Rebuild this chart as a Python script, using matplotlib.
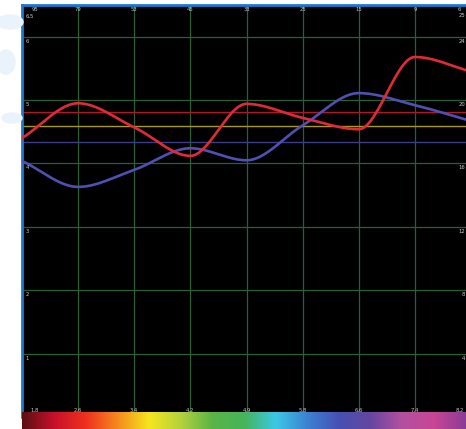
import numpy as np
import matplotlib
matplotlib.use("Agg")
import matplotlib.pyplot as plt
from matplotlib.colors import LinearSegmentedColormap

# ---- data ----
bottom_labels = ["1,8", "2,6", "3,4", "4,2", "4,9", "5,8", "6,6", "7,4", "8,2"]
top_labels = ["95", "79", "53", "45", "33", "25", "15", "9", "6"]
left_ticks = [1, 2, 3, 4, 5, 6]
left_labels = ["1", "2", "3", "4", "5", "6"]
right_labels = ["4", "8", "12", "16", "20", "24"]
red_values = [4.40, 4.95, 4.57, 4.12, 4.94, 4.72, 4.54, 5.68, 5.45]
blue_values = [4.04, 3.63, 3.90, 4.24, 4.05, 4.60, 5.11, 4.92, 4.67]
ref_red = 4.81
ref_yellow = 4.59
ref_blue = 4.34
spectrum_colors = ["#5a0f14", "#c8102a", "#f0301e", "#f58a1e", "#f5e61e", "#b4d23c",
                   "#5ab446", "#46b45a", "#3cc8e6", "#3c82d2", "#4650b4", "#6446a0",
                   "#b450a0", "#c84696", "#8c3c96"]

W, H = 466, 429


def pchip(x, y, xs):
    x = np.asarray(x, float); y = np.asarray(y, float)
    h = np.diff(x); d = np.diff(y) / h
    n = len(x); m = np.zeros(n)
    for k in range(1, n - 1):
        if d[k - 1] * d[k] > 0:
            w1 = 2 * h[k] + h[k - 1]; w2 = h[k] + 2 * h[k - 1]
            m[k] = (w1 + w2) / (w1 / d[k - 1] + w2 / d[k])
    m[0] = d[0]; m[-1] = d[-1]
    idx = np.clip(np.searchsorted(x, xs) - 1, 0, n - 2)
    t = (xs - x[idx]) / h[idx]
    h00 = 2 * t**3 - 3 * t**2 + 1; h10 = t**3 - 2 * t**2 + t
    h01 = -2 * t**3 + 3 * t**2; h11 = t**3 - t**2
    return h00 * y[idx] + h10 * h[idx] * m[idx] + h01 * y[idx + 1] + h11 * h[idx] * m[idx + 1]


fig = plt.figure(figsize=(W / 100, H / 100), dpi=100)
fig.patch.set_facecolor("white")

# faint watermark blobs on the left
for (cx, cy, rw, rh) in [(10, 22, 26, 14), (6, 62, 18, 24), (12, 118, 20, 10)]:
    e = matplotlib.patches.Ellipse((cx / W, 1 - cy / H), rw / W, rh / H,
                                   transform=fig.transFigure, color="#eaf3fb", zorder=0)
    fig.patches.append(e)

x0, x1 = 22, 471
ytop, ybot = 5, 417
ax = fig.add_axes([x0 / W, 1 - ybot / H, (x1 - x0) / W, (ybot - ytop) / H])
ax.set_facecolor("black")
ax.set_xlim(0, 8)
ax.set_ylim(0, 6.5)
ax.set_xticks([]); ax.set_yticks([])
for s in ["right", "bottom"]:
    ax.spines[s].set_visible(False)
for s in ["left", "top"]:
    ax.spines[s].set_color("#1a7ad0")
    ax.spines[s].set_linewidth(2.0)

grid_col = "#2a5e36"
for i in range(1, 8):
    ax.axvline(i, color=grid_col, lw=0.9, zorder=1)
for v in left_ticks:
    ax.axhline(v, color=grid_col, lw=0.9, zorder=1)

ax.axhline(ref_red, color="#b01828", lw=1.0, zorder=2)
ax.axhline(ref_yellow, color="#a8981c", lw=1.0, zorder=2)
ax.axhline(ref_blue, color="#3c3c8c", lw=1.0, zorder=2)

xp = np.arange(len(red_values))
xs = np.linspace(0, 8, 600)
ax.plot(xs, pchip(xp, blue_values, xs), color="#5050b2", lw=1.9, zorder=3, solid_capstyle="round")
ax.plot(xs, pchip(xp, red_values, xs), color="#e02a38", lw=1.9, zorder=4, solid_capstyle="round")

tc = "#c8c8c8"
fs = 3.8
xr = 7.895  # just inside the right edge of the figure
# bottom labels
for i, lab in enumerate(bottom_labels):
    xpos = i if 0 < i < 8 else (0.23 if i == 0 else 7.8)
    ax.text(xpos, 0.1, lab, color=tc, fontsize=fs, ha="center", va="center", zorder=5)
# top labels
for i, lab in enumerate(top_labels):
    xpos = i if 0 < i < 8 else (0.23 if i == 0 else 7.8)
    ax.text(xpos, 6.43, lab, color=tc, fontsize=fs, ha="center", va="center", zorder=5)
ax.text(0.06, 6.33, "6,5", color=tc, fontsize=fs, ha="left", va="center", zorder=5)
ax.text(xr, 6.33, "25", color=tc, fontsize=fs, ha="right", va="center", zorder=5)
for v, lab in zip(left_ticks, left_labels):
    ax.text(0.06, v - 0.07, lab, color=tc, fontsize=fs, ha="left", va="center", zorder=5)
for v, lab in zip(left_ticks, right_labels):
    ax.text(xr, v - 0.07, lab, color=tc, fontsize=fs, ha="right", va="center", zorder=5)

# spectrum bar
cax = fig.add_axes([22 / W, 0, (W - 22) / W, 17 / H])
cmap = LinearSegmentedColormap.from_list("spec", spectrum_colors)
grad = np.linspace(0, 1, 512).reshape(1, -1)
cax.imshow(grad, aspect="auto", cmap=cmap, extent=[0, 1, 0, 1])
cax.axis("off")

fig.savefig("out.png", dpi=100, facecolor="white")
